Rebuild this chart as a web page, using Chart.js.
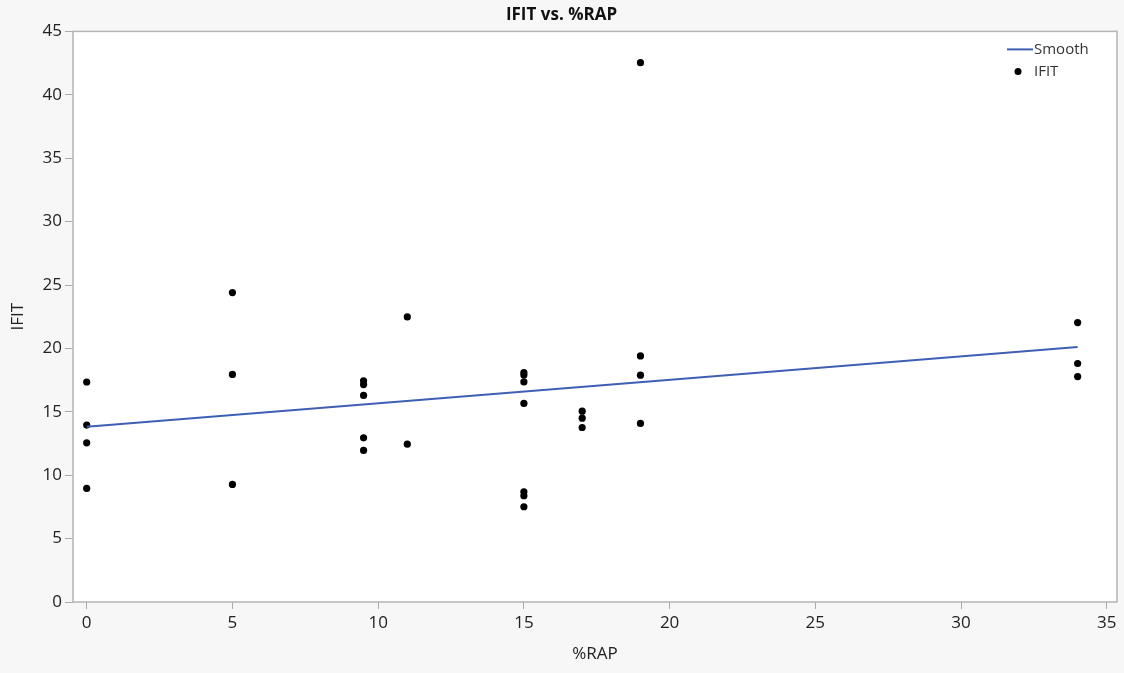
<!DOCTYPE html>
<html>
<head>
<meta charset="utf-8">
<script src="https://cdn.jsdelivr.net/npm/chart.js@4"></script>
<style>
  html, body { margin: 0; padding: 0; background: #f7f7f7; }
  #wrap { width: 1124px; height: 673px; }
</style>
</head>
<body>
<div id="wrap"><canvas id="chart" width="1124" height="673"></canvas></div>
<script>
// %RAP values for each observation
const rapValues = [0, 0, 0, 0, 5, 5, 5, 9.5, 9.5, 9.5, 9.5, 9.5, 11, 11,
    15, 15, 15, 15, 15, 15, 15, 17, 17, 17, 19, 19, 19, 19, 34, 34, 34];
// IFIT values
const ifitValues = [17.35, 13.95, 12.55, 8.96, 24.4, 17.95, 9.27,
    17.44, 17.15, 16.29, 12.95, 11.95, 22.48, 12.45,
    18.1, 17.9, 17.36, 15.66, 8.69, 8.38, 7.51,
    15.05, 14.5, 13.76, 42.53, 19.41, 17.89, 14.08,
    22.04, 18.81, 17.78];

// smooth fit endpoints
const smoothX = [0, 34];
const smoothY = [13.82, 20.12];

const xTicks = [0, 5, 10, 15, 20, 25, 30, 35];
const yTicks = [0, 5, 10, 15, 20, 25, 30, 35, 40, 45];

const FONT = "'Open Sans', 'Noto Sans', sans-serif";
const LINE_BLUE = '#3f5fb4';

// white plot area with a grey frame
const plotFrame = {
    id: 'plotFrame',
    beforeDatasetsDraw(chart) {
        const { ctx, chartArea: a } = chart;
        ctx.save();
        ctx.fillStyle = '#ffffff';
        ctx.fillRect(a.left, a.top, a.right - a.left, a.bottom - a.top);
        ctx.restore();
    },
    afterDatasetsDraw(chart) {
        const { ctx, chartArea: a } = chart;
        ctx.save();
        ctx.strokeStyle = '#b4b4b4';
        ctx.lineWidth = 1.5;
        ctx.strokeRect(a.left, a.top, a.right - a.left, a.bottom - a.top);
        ctx.restore();
    }
};

// legend in the top right corner of the plot
const cornerLegend = {
    id: 'cornerLegend',
    afterDraw(chart) {
        const { ctx, chartArea: a } = chart;
        const x0 = a.right - 110;
        ctx.save();
        ctx.font = '15px ' + FONT;
        ctx.fillStyle = '#333333';
        ctx.textBaseline = 'middle';
        ctx.strokeStyle = LINE_BLUE;
        ctx.lineWidth = 2;
        ctx.beginPath();
        ctx.moveTo(x0, a.top + 18);
        ctx.lineTo(x0 + 26, a.top + 18);
        ctx.stroke();
        ctx.fillText('Smooth', x0 + 27, a.top + 18);
        ctx.fillStyle = '#000000';
        ctx.beginPath();
        ctx.arc(x0 + 11, a.top + 40, 3.5, 0, Math.PI * 2);
        ctx.fill();
        ctx.fillStyle = '#333333';
        ctx.fillText('IFIT', x0 + 27, a.top + 40);
        ctx.restore();
    }
};

const ctx = document.getElementById('chart').getContext('2d');
new Chart(ctx, {
    type: 'scatter',
    data: {
        datasets: [{
            type: 'line',
            label: 'Smooth',
            data: smoothX.map((x, i) => ({ x: x, y: smoothY[i] })),
            borderColor: LINE_BLUE,
            borderWidth: 2,
            pointRadius: 0,
            fill: false
        }, {
            label: 'IFIT',
            data: rapValues.map((x, i) => ({ x: x, y: ifitValues[i] })),
            backgroundColor: '#000000',
            borderWidth: 0,
            pointRadius: 3.6
        }]
    },
    options: {
        responsive: false,
        animation: false,
        layout: { padding: { left: 6, right: 7, top: 2, bottom: 0 } },
        plugins: {
            legend: { display: false },
            tooltip: { enabled: false },
            title: {
                display: true,
                text: 'IFIT vs. %RAP',
                color: '#111111',
                font: { family: FONT, size: 17, weight: 'bold' },
                padding: { top: 3, bottom: 6 }
            }
        },
        scales: {
            x: {
                type: 'linear',
                min: -0.47,
                max: 35.35,
                afterBuildTicks(scale) { scale.ticks = xTicks.map(v => ({ value: v })); },
                afterFit(scale) { scale.height = 71; },
                grid: { drawOnChartArea: false, drawTicks: true, tickLength: 7, color: '#aaaaaa' },
                border: { display: false },
                ticks: { color: '#222222', padding: 4, font: { family: FONT, size: 17 } },
                title: {
                    display: true, text: '%RAP', color: '#222222',
                    font: { family: FONT, size: 17 }, padding: { bottom: 9 }
                }
            },
            y: {
                type: 'linear',
                min: 0,
                max: 45,
                afterBuildTicks(scale) { scale.ticks = yTicks.map(v => ({ value: v })); },
                afterFit(scale) { scale.width = 67; },
                grid: { drawOnChartArea: false, drawTicks: true, tickLength: 8, color: '#aaaaaa' },
                border: { display: false },
                ticks: { color: '#222222', padding: 3, font: { family: FONT, size: 17 } },
                title: {
                    display: true, text: 'IFIT', color: '#222222',
                    font: { family: FONT, size: 17 }, padding: { top: 2 }
                }
            }
        }
    },
    plugins: [plotFrame, cornerLegend]
});
</script>
</body>
</html>
